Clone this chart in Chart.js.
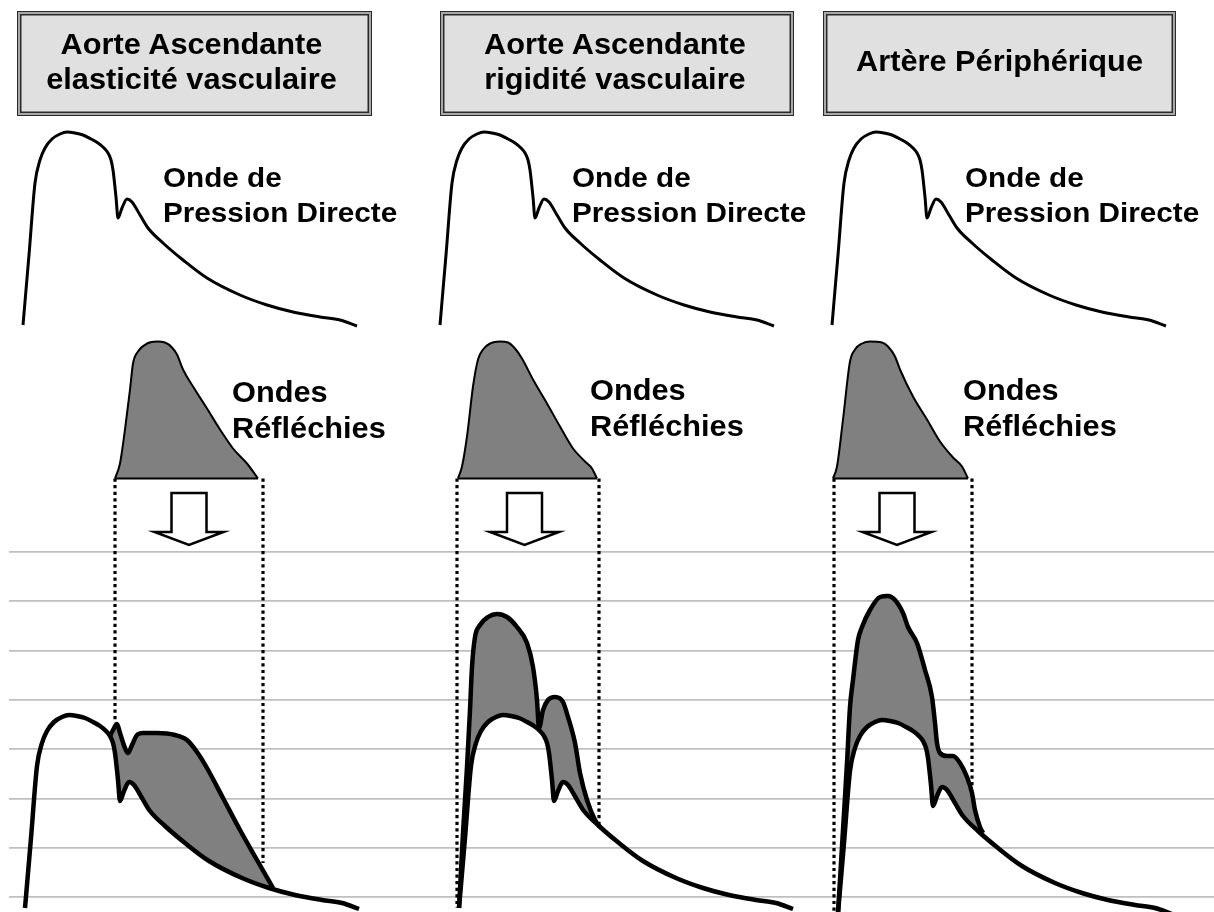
<!DOCTYPE html>
<html><head><meta charset="utf-8">
<script src="https://cdn.jsdelivr.net/npm/chart.js@4.4.1/dist/chart.umd.min.js"></script>
<style>
html,body{margin:0;padding:0;background:#fff;overflow:hidden}
#wrap{position:relative;width:1214px;height:912px}
canvas{position:absolute;left:0;top:0}
.box{position:absolute;box-sizing:border-box;top:11px;height:105px;background:#e0e0e0;border:1.5px solid #2a2a2a;box-shadow:inset 0 0 0 2px #a8a8a8, inset 0 0 0 3.5px #2a2a2a}
.t{position:absolute;font-family:"Liberation Sans",Arial,sans-serif;font-weight:bold;white-space:nowrap;color:#000}
.lab{font-size:28px;line-height:35px;transform:scaleX(1.06);transform-origin:0 0}
.lab2{font-size:29px;line-height:36px;transform:scaleX(1.06);transform-origin:0 0}
.hd{font-size:29px;line-height:35px;text-align:center;transform:scaleX(1.06);transform-origin:50% 0}
</style></head>
<body>
<div id="wrap">
<canvas id="c" width="1214" height="912"></canvas>
<div class="box" style="left:17px;width:355px"></div>
<div class="box" style="left:440px;width:354px"></div>
<div class="box" style="left:823px;width:353px"></div>
<div class="t hd" style="left:14px;width:355px;top:27px">Aorte Ascendante<br>elasticité vasculaire</div>
<div class="t hd" style="left:438px;width:354px;top:27px">Aorte Ascendante<br>rigidité vasculaire</div>
<div class="t hd" style="left:823px;width:353px;top:44px">Artère Périphérique</div>
<div class="t lab" style="left:163px;top:160px">Onde de<br>Pression Directe</div>
<div class="t lab" style="left:572px;top:160px">Onde de<br>Pression Directe</div>
<div class="t lab" style="left:965px;top:160px">Onde de<br>Pression Directe</div>
<div class="t lab2" style="left:232px;top:374px">Ondes<br>Réfléchies</div>
<div class="t lab2" style="left:590px;top:372px">Ondes<br>Réfléchies</div>
<div class="t lab2" style="left:963px;top:372px">Ondes<br>Réfléchies</div>
</div>
<script>
// ---- data (time units / pressure units) ----
const directT = [0,6,12,17,22,29,37,44,52,60,68,75,81,85,88,90,93,95,99,104,109,117,125,140,160,184,217,244,270,297,317,334];
const directP = [0,70,142,165,177,186,191,193,192,190,186,182,177,172,165,155,128,107,117,126,123,110,97,82,65,47,30,20,13,8,5,-1];

const reflT1 = [92,97,102,107,110,115,124,134,142,149,154,160,170,184,197,210,224,235];
const reflP1 = [0,15,49,89,115,127,135,137,136,131,124,109,92,70,49,30,15,0];
const reflT2 = [18,22,27,33,38,43,50,60,68,75,82,93,107,120,133,145,152,157];
const reflP2 = [0,12,42,92,119,129,135,137,136,130,120,99,75,52,30,17,10,0];
const reflT3 = [1,5,11,18,23,30,38,50,56,63,68,81,95,108,121,130,136];
const reflP3 = [0,12,59,117,129,135,137,136,132,122,109,82,59,37,21,12,0];

const sumT1 = [85,88,92,95,100,103,107,112,118,132,150,162,172,182,198,215,232,248];
const sumP1 = [172,178,184,175,160,155,163,173,175,175,173,168,156,140,110,78,48,20];
const sumT2 = [0,4,8,11,13,16,21,29,38,48,58,68,74,78,80,84,89,96,104,109,116,121,128,136,141];
const sumP2 = [0,75,141,198,241,271,283,291,294,291,281,265,241,208,180,198,208,211,206,191,165,135,108,88,81];
const sumT3 = [0,5,9,12,15,20,24,32,42,50,57,65,70,79,87,94,97,99,102,109,115,122,129,134,137,142,145];
const sumP3 = [0,83,150,206,233,273,286,303,316,317,313,300,286,270,243,216,190,170,160,157,157,150,136,120,103,86,80];

const dotT1 = [92,240], dotEnd1 = [-244.5,-384.5];
const dotT2 = [17,159], dotEnd2 = [-429.5,-346.5];
const dotT3 = [2,140],  dotEnd3 = [-433.5,-308.5];
const arrowT = [166,84.5,65];
const gridTicks = [0,10,20,30,40,50,60,70];

// ---- layout ----
const CW=1214, CH=912, LEFT=9, W=CW-LEFT;
const topFootX=[23,440,832], botFootX=[25,459,838], botFootY=[908,908,913];
const TOP_FOOT_Y=325, REFL_BASE_Y=478.5, GRID0_Y=897, GRID_UNIT=4.93;

const cols = [
  {reflT:reflT1,reflP:reflP1,sumT:sumT1,sumP:sumP1,dotT:dotT1,dotEnd:dotEnd1},
  {reflT:reflT2,reflP:reflP2,sumT:sumT2,sumP:sumP2,dotT:dotT2,dotEnd:dotEnd2},
  {reflT:reflT3,reflP:reflP3,sumT:sumT3,sumP:sumP3,dotT:dotT3,dotEnd:dotEnd3}
];
const pts = (xs,ys)=>xs.map((x,i)=>({x:x,y:ys[i]}));

const scales = {
  yGrid:{type:'linear',position:'left',min:-(CH-GRID0_Y)/GRID_UNIT,max:GRID0_Y/GRID_UNIT,
    afterBuildTicks:s=>{s.ticks=gridTicks.map(v=>({value:v}));},
    afterFit:s=>{s.width=0;},
    grid:{color:'#bfbfbf',lineWidth:1.8,drawTicks:false},border:{display:false},ticks:{display:false}},
  yt:{type:'linear',display:false,min:-(CH-TOP_FOOT_Y),max:TOP_FOOT_Y},
  ym:{type:'linear',display:false,min:-(CH-REFL_BASE_Y),max:REFL_BASE_Y}
};
const datasets = [];
const base = {pointRadius:0,borderColor:'#000',fill:false,clip:false,borderJoinStyle:'round'};
cols.forEach((c,k)=>{
  const m0=-(topFootX[k]-LEFT), m1=-(botFootX[k]-LEFT);
  scales['xt'+k]={type:'linear',display:false,min:m0,max:m0+W};
  scales['xb'+k]={type:'linear',display:false,min:m1,max:m1+W};
  scales['yb'+k]={type:'linear',display:false,min:-(CH-botFootY[k]),max:botFootY[k]};
  // top direct wave
  datasets.push(Object.assign({},base,{data:pts(directT,directP),xAxisID:'xt'+k,yAxisID:'yt',borderWidth:3,cubicInterpolationMode:'monotone'}));
  // reflected wave
  datasets.push(Object.assign({},base,{data:pts(c.reflT,c.reflP),xAxisID:'xt'+k,yAxisID:'ym',borderWidth:2,cubicInterpolationMode:'monotone',fill:{value:0},backgroundColor:'#808080'}));
  datasets.push(Object.assign({},base,{data:[{x:c.reflT[0],y:0},{x:c.reflT[c.reflT.length-1],y:0}],xAxisID:'xt'+k,yAxisID:'ym',borderWidth:2.2,tension:0}));
  // dotted verticals
  for(let j=0;j<2;j++){
    datasets.push(Object.assign({},base,{data:[{x:c.dotT[j],y:0},{x:c.dotT[j],y:c.dotEnd[j]}],xAxisID:'xt'+k,yAxisID:'ym',borderWidth:3.2,borderDash:[3.2,3.4],tension:0,borderCapStyle:'butt'}));
  }
  // bottom: direct + sum with filled difference
  const di = datasets.length;
  datasets.push(Object.assign({},base,{data:pts(directT,directP),xAxisID:'xb'+k,yAxisID:'yb'+k,borderWidth:4.5,cubicInterpolationMode:'monotone'}));
  datasets.push(Object.assign({},base,{data:pts(c.sumT,c.sumP),xAxisID:'xb'+k,yAxisID:'yb'+k,borderWidth:4.5,cubicInterpolationMode:'monotone',fill:{target:di},backgroundColor:'#808080'}));
});

const arrowPlugin = {
  id:'arrows',
  afterDatasetsDraw(chart){
    const ctx=chart.ctx, b=chart.scales.ym.getPixelForValue(0);
    arrowT.forEach((t,k)=>{
      const cx=chart.scales['xt'+k].getPixelForValue(t);
      const top=b+14.5, wy=b+53.5, tip=b+66.5, sh=17.5, wh=34.5;
      ctx.save();
      ctx.beginPath();
      ctx.moveTo(cx-sh,top); ctx.lineTo(cx+sh,top); ctx.lineTo(cx+sh,wy); ctx.lineTo(cx+wh,wy);
      ctx.lineTo(cx,tip); ctx.lineTo(cx-wh,wy); ctx.lineTo(cx-sh,wy); ctx.closePath();
      ctx.fillStyle='#fff'; ctx.fill();
      ctx.lineWidth=2.5; ctx.strokeStyle='#000'; ctx.lineJoin='miter'; ctx.stroke();
      ctx.restore();
    });
  }
};

new Chart(document.getElementById('c'),{
  type:'line',
  data:{datasets:datasets},
  options:{
    responsive:false,animation:false,events:[],
    layout:{padding:{left:LEFT,right:0,top:0,bottom:0}},
    scales:scales,
    plugins:{legend:{display:false},tooltip:{enabled:false},filler:{drawTime:'beforeDatasetsDraw'}}
  },
  plugins:[arrowPlugin]
});
</script>
</body></html>
